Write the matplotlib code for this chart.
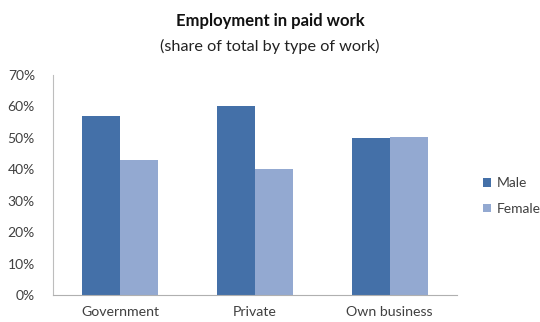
import numpy as np
import matplotlib
matplotlib.use("Agg")
import matplotlib.pyplot as plt

plt.rcParams["font.family"] = ["Lato", "DejaVu Sans"]

categories = ["Government", "Private", "Own business"]
male = [57.0, 60.0, 49.8]
female = [43.0, 40.0, 50.2]
yticks = [0, 10, 20, 30, 40, 50, 60, 70]

MALE_C = "#4470a8"
FEMALE_C = "#93a9d1"
TEXT_C = "#404040"

fig = plt.figure(figsize=(5.4, 3.22), dpi=100)
ax = fig.add_axes([53 / 540, 1 - 295 / 322, 404 / 540, 220 / 322])

x = np.arange(len(categories))
w = 0.282
ax.bar(x - w / 2, male, w, color=MALE_C, label="Male")
ax.bar(x + w / 2, female, w, color=FEMALE_C, label="Female")

ax.set_xlim(-0.5, len(categories) - 0.5)
ax.set_ylim(0, 70)
ax.set_yticks(yticks)
ax.set_yticklabels([f"{t}%" for t in yticks], fontsize=10, color=TEXT_C)
ax.set_xticks(x)
ax.set_xticklabels(categories, fontsize=10.2, color=TEXT_C)
ax.tick_params(axis="y", length=0, pad=13)
ax.tick_params(axis="x", length=0, pad=8)

for side in ("top", "right"):
    ax.spines[side].set_visible(False)
ax.spines["left"].set_color("#bdbdbd")
ax.spines["bottom"].set_color("#b0b0b0")

fig.text(0.5, 1 - 21 / 322, "Employment in paid work", ha="center", va="center",
         fontsize=12, fontweight="bold", color="#111111")
fig.text(0.5, 1 - 46 / 322, "(share of total by type of work)", ha="center",
         va="center", fontsize=11.7, color="#222222")

fig.legend(loc="center left", bbox_to_anchor=(470 / 540, 1 - 196 / 322),
           frameon=False, fontsize=10, handlelength=0.6, handleheight=0.6,
           handletextpad=0.4, labelspacing=1.0, labelcolor=TEXT_C)

fig.savefig("out.png", dpi=100)
